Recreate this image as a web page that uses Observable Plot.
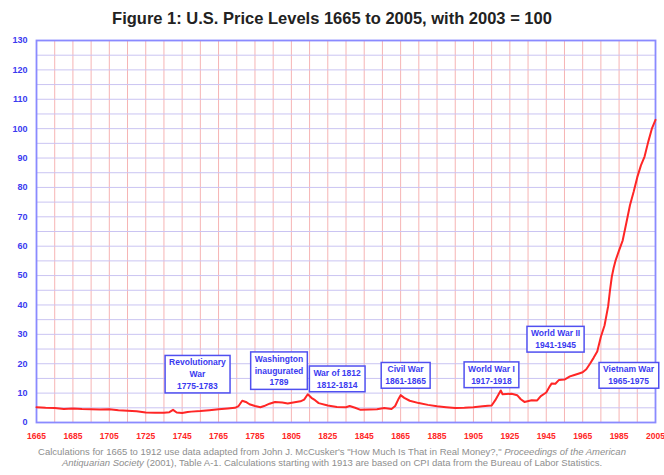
<!DOCTYPE html>
<html>
<head>
<meta charset="utf-8">
<script src="https://cdn.jsdelivr.net/npm/d3@7"></script>
<script src="https://cdn.jsdelivr.net/npm/@observablehq/plot@0.6"></script>
<style>
  html, body { margin: 0; padding: 0; background: #fff; }
  body { width: 664px; height: 475px; overflow: hidden; font-family: "Liberation Sans", Arial, sans-serif; }
  #title { height: 30px; box-sizing: border-box; padding-top: 10px; line-height: 17px; text-align: center;
           font-size: 16.5px; font-weight: bold; color: #222; }
  #chart svg { display: block; }
  #caption { text-align: center; font-size: 9.5px; line-height: 11px; color: #8e8e8e; padding-top: 1px; white-space: nowrap; }
</style>
</head>
<body>
<div id="title">Figure 1: U.S. Price Levels 1665 to 2005, with 2003 = 100</div>
<div id="chart"></div>
<div id="caption">Calculations for 1665 to 1912 use data adapted from John J. McCusker's "How Much Is That in Real Money?," <i>Proceedings of the American<br>Antiquarian Society</i> (2001), Table A-1. Calculations starting with 1913 are based on CPI data from the Bureau of Labor Statistics.</div>
<script>
// ---- data ----
const years = [1665,1670,1675,1680,1685,1690,1695,1700,1705,1710,1715,1720,1725,1730,1735,1738,1740,1742,1745,1748,
  1750,1755,1760,1765,1770,1774,1776,1778,1780,1782,1785,1788,1790,1793,1796,1800,1803,1806,1810,1812,
  1814,1816,1818,1820,1825,1830,1835,1837,1840,1843,1848,1852,1856,1860,1862,1864,1865,1867,1870,1875,
  1880,1885,1890,1895,1900,1905,1910,1913,1915,1917,1919,1920,1921,1923,1926,1929,1931,1933,1937,1940,
  1942,1945,1947,1948,1950,1952,1955,1958,1960,1963,1965,1967,1969,1971,1973,1975,1977,1979,1980,1981,
  1982,1983,1985,1987,1989,1991,1993,1995,1997,1999,2001,2003,2005];
const priceLevel = [5.2,5.0,4.9,4.6,4.8,4.6,4.5,4.4,4.5,4.2,4.0,3.8,3.4,3.3,3.3,3.5,4.3,3.4,3.2,3.6,
  3.7,3.9,4.2,4.5,4.8,5.0,5.6,7.4,7.0,6.2,5.6,5.2,5.6,6.4,7.0,6.8,6.5,6.8,7.2,7.8,
  9.6,8.4,7.6,6.6,5.8,5.3,5.2,5.6,5.0,4.3,4.4,4.5,4.9,4.6,5.6,8.2,9.3,8.4,7.4,6.6,
  6.0,5.5,5.2,4.9,5.0,5.2,5.5,5.7,5.8,7.6,9.8,10.9,9.6,9.7,9.8,9.3,7.9,7.0,7.6,7.5,
  9.0,10.2,12.4,13.3,13.2,14.5,14.6,15.7,16.1,16.7,17.1,18.1,20.0,22.0,24.2,29.2,33.0,39.6,45.0,49.6,
  52.6,55.0,58.6,62.0,68.0,74.0,78.5,83.5,87.5,90.5,95.5,100.0,103.0];

const xTickLabels = [1665,1685,1705,1725,1745,1765,1785,1805,1825,1845,1865,1885,1905,1925,1945,1965,1985,2005];
const yTickLabels = [0,10,20,30,40,50,60,70,80,90,100,110,120,130];

const annoText = ["Revolutionary\nWar\n1775-1783", "Washington\ninaugurated\n1789", "War of 1812\n1812-1814",
  "Civil War\n1861-1865", "World War I\n1917-1918", "World War II\n1941-1945", "Vietnam War\n1965-1975"];
const annoYear = [1753.4, 1798.2, 1830.1, 1867.7, 1914.9, 1950.1, 1990.2];
const annoValue = [16.7, 17.9, 15.1, 16.3, 16.5, 28.6, 16.3];

// ---- tables ----
const series = years.map((y, i) => ({year: y, value: priceLevel[i]}));
const annotations = annoText.map((t, i) => ({text: t, year: annoYear[i], value: annoValue[i]}));
const xGrid = d3.range(1665, 2006, 10);
const yGrid = d3.range(0, 131, 5);

const BLUE = "#3a3af0", RED = "#ff2626";

const svg = Plot.plot({
  width: 664,
  height: 415,
  marginLeft: 36,
  marginRight: 9,
  marginTop: 10,
  marginBottom: 23,
  style: {fontFamily: '"Liberation Sans", Arial, sans-serif', background: "white"},
  x: {domain: [1665, 2005]},
  y: {domain: [0, 130]},
  marks: [
    Plot.ruleX(xGrid, {stroke: "#f6b4b4", strokeWidth: 1}),
    Plot.ruleY(yGrid, {stroke: "#cac4f2", strokeWidth: 1}),
    Plot.frame({stroke: "#8a8aff", strokeWidth: 1.8}),
    Plot.axisY(yTickLabels, {tickSize: 0, tickPadding: 9, fill: BLUE, fontWeight: "bold", fontSize: 9, label: null}),
    Plot.axisX(xTickLabels, {tickSize: 0, tickPadding: 10, tickFormat: d => String(d), fill: RED, fontWeight: "bold", fontSize: 8.5, label: null}),
    Plot.line(series, {x: "year", y: "value", stroke: RED, strokeWidth: 2, curve: "linear"}),
    Plot.text(annotations, {x: "year", y: "value", text: "text", fill: BLUE, fontWeight: "bold", fontSize: 8.5, lineHeight: 1.38})
  ]
});
document.getElementById("chart").appendChild(svg);

// draw the boxes behind annotation texts
const g = svg.querySelector('g[aria-label="text"]');
if (g) {
  for (const t of [...g.querySelectorAll("text")]) {
    const b = t.getBBox();
    const r = document.createElementNS("http://www.w3.org/2000/svg", "rect");
    r.setAttribute("x", b.x - 4);
    r.setAttribute("y", b.y - 2);
    r.setAttribute("width", b.width + 8);
    r.setAttribute("height", b.height + 4);
    r.setAttribute("fill", "white");
    r.setAttribute("stroke", "#5050f0");
    r.setAttribute("stroke-width", "1.5");
    if (t.getAttribute("transform")) r.setAttribute("transform", t.getAttribute("transform"));
    g.insertBefore(r, t);
  }
}
</script>
</body>
</html>
